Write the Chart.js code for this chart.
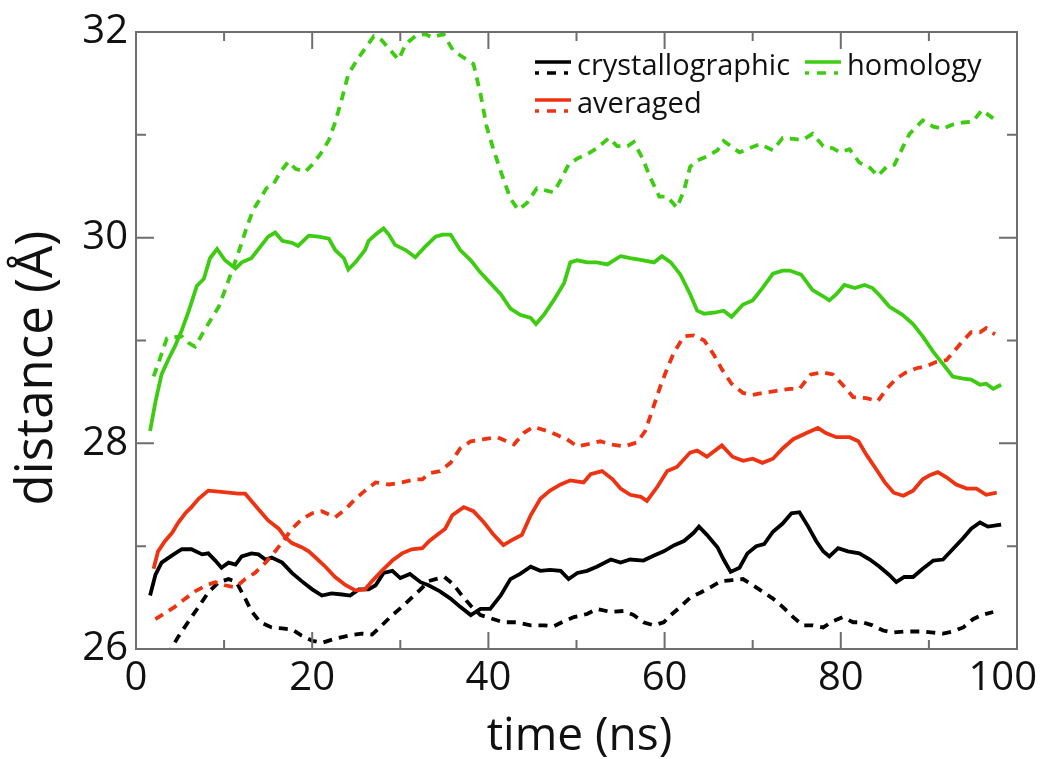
<!DOCTYPE html>
<html>
<head>
<meta charset="utf-8">
<script src="https://cdn.jsdelivr.net/npm/chart.js@4.4.1/dist/chart.umd.min.js"></script>
<style>
  body { margin: 0; background: #fff; }
</style>
</head>
<body>
<canvas id="distChart" width="1042" height="759"></canvas>
<script>
// time (ns) / distance (A), one pair of arrays per trace
const crystSolidT = [1.6,2.2,2.9,4.1,5.2,6.3,7.5,8.2,9.0,9.7,10.5,11.3,12.0,13.1,13.9,14.7,15.4,16.6,17.7,18.8,20.0,21.1,22.2,23.4,24.3,25.3,26.4,27.2,28.1,29.1,30.0,31.1,32.3,33.2,34.5,35.7,36.8,38.0,39.1,40.2,41.4,42.5,43.6,44.8,45.9,47.0,48.2,49.1,50.1,51.2,52.3,53.9,55.0,56.1,57.6,58.8,59.9,61.1,62.2,63.3,63.9,64.8,66.0,66.7,67.5,68.5,69.4,70.4,71.3,72.3,73.4,74.4,75.3,76.3,77.2,78.0,78.7,79.7,80.8,82.1,83.3,84.4,85.5,86.3,87.2,88.2,89.3,90.5,91.6,92.7,93.9,94.8,95.8,96.7,98.2];
const crystSolidD = [26.52,26.72,26.84,26.91,26.97,26.97,26.92,26.93,26.86,26.79,26.84,26.82,26.90,26.93,26.92,26.87,26.89,26.84,26.74,26.66,26.58,26.52,26.54,26.53,26.52,26.58,26.58,26.62,26.74,26.76,26.69,26.73,26.65,26.62,26.56,26.49,26.41,26.33,26.39,26.39,26.52,26.68,26.73,26.80,26.76,26.77,26.76,26.68,26.74,26.76,26.80,26.87,26.84,26.87,26.86,26.91,26.95,27.01,27.05,27.13,27.19,27.11,26.99,26.87,26.75,26.79,26.93,27.00,27.02,27.14,27.22,27.32,27.33,27.19,27.05,26.95,26.90,26.98,26.95,26.93,26.87,26.80,26.72,26.65,26.70,26.70,26.78,26.86,26.87,26.97,27.08,27.17,27.23,27.19,27.21];

const crystDashT = [3.5,4.8,5.9,7.1,8.2,9.4,10.5,11.4,12.4,13.1,14.1,15.4,16.6,17.7,18.8,20.0,21.1,22.6,24.1,25.6,26.8,27.9,29.1,30.2,31.3,32.3,33.2,34.0,35.0,36.0,37.0,38.0,39.1,40.2,41.7,43.2,44.8,46.3,47.4,48.6,49.7,51.2,52.3,53.9,55.4,56.5,57.6,58.8,59.9,60.7,61.8,62.9,64.1,65.2,66.4,67.7,68.9,70.0,71.1,72.3,73.4,74.6,75.7,76.8,78.0,79.1,80.2,81.4,82.5,83.6,84.8,85.9,87.1,88.2,89.3,90.5,91.6,92.7,93.9,95.0,96.0,97.3];
const crystDashD = [25.93,26.12,26.26,26.41,26.55,26.65,26.68,26.65,26.49,26.37,26.26,26.21,26.20,26.19,26.13,26.08,26.06,26.10,26.13,26.15,26.14,26.23,26.33,26.41,26.50,26.58,26.66,26.68,26.70,26.63,26.52,26.42,26.33,26.30,26.26,26.26,26.23,26.23,26.22,26.27,26.31,26.34,26.39,26.36,26.37,26.33,26.26,26.23,26.26,26.33,26.41,26.50,26.55,26.60,26.66,26.67,26.68,26.62,26.56,26.49,26.41,26.31,26.23,26.23,26.21,26.27,26.31,26.26,26.26,26.23,26.18,26.16,26.17,26.17,26.17,26.16,26.15,26.17,26.21,26.29,26.33,26.36];

const avgSolidT = [2.0,2.5,3.3,4.1,4.8,5.6,6.3,7.1,8.2,9.4,10.5,11.6,12.4,13.1,14.1,15.0,16.2,16.9,17.7,18.8,19.6,20.5,21.5,22.6,23.8,24.9,26.0,26.8,27.9,29.1,30.2,31.3,32.5,33.3,34.2,35.1,35.9,37.2,38.3,39.5,40.6,41.7,42.9,43.8,44.8,45.9,47.0,48.2,49.3,50.8,51.6,52.9,54.1,55.0,56.1,57.3,58.0,59.2,60.3,61.4,62.9,63.7,64.8,66.5,67.7,68.9,70.0,71.1,72.3,73.4,74.6,76.1,77.4,78.3,79.5,81.0,82.0,82.9,84.0,85.0,86.0,87.1,88.2,89.3,90.1,91.0,92.0,93.1,94.3,95.4,96.5,97.7];
const avgSolidD = [26.78,26.95,27.05,27.13,27.23,27.32,27.38,27.46,27.54,27.53,27.52,27.51,27.51,27.44,27.34,27.25,27.17,27.09,27.03,26.99,26.95,26.88,26.80,26.70,26.62,26.57,26.58,26.66,26.76,26.86,26.93,26.97,26.98,27.05,27.11,27.17,27.30,27.38,27.34,27.23,27.11,27.01,27.07,27.11,27.30,27.46,27.54,27.60,27.64,27.62,27.70,27.73,27.65,27.56,27.50,27.48,27.44,27.58,27.73,27.77,27.91,27.93,27.87,27.98,27.87,27.83,27.85,27.81,27.85,27.95,28.04,28.10,28.15,28.10,28.06,28.06,28.02,27.89,27.75,27.62,27.52,27.49,27.54,27.65,27.69,27.72,27.67,27.60,27.56,27.56,27.50,27.52];

const avgDashT = [2.2,3.3,4.4,5.6,6.7,8.0,9.0,10.1,11.3,12.4,13.5,14.7,15.8,16.7,17.7,18.8,20.0,21.1,22.6,23.8,24.9,26.0,27.2,28.7,30.2,31.7,32.5,33.3,34.5,35.7,36.8,38.0,39.5,41.0,42.9,44.0,45.1,46.7,47.8,48.9,50.1,51.2,52.7,53.9,55.4,56.9,57.8,58.6,59.5,60.3,61.1,62.2,63.3,64.5,65.6,66.5,67.6,68.9,70.0,71.1,72.7,74.2,75.3,76.6,78.0,79.1,80.2,81.4,82.9,84.2,85.2,86.3,87.4,88.6,89.7,90.8,92.0,92.9,93.9,94.8,95.8,96.5,97.5];
const avgDashD = [26.29,26.35,26.41,26.49,26.56,26.62,26.65,26.62,26.60,26.68,26.74,26.84,26.95,27.05,27.17,27.26,27.32,27.34,27.28,27.36,27.46,27.54,27.62,27.60,27.62,27.65,27.65,27.71,27.73,27.81,27.95,28.02,28.04,28.06,27.99,28.10,28.16,28.12,28.08,28.04,27.97,27.99,28.02,27.99,27.97,28.01,28.12,28.32,28.55,28.73,28.89,29.04,29.05,29.00,28.86,28.72,28.58,28.49,28.47,28.49,28.51,28.53,28.53,28.67,28.69,28.67,28.57,28.45,28.44,28.41,28.53,28.63,28.69,28.73,28.75,28.79,28.81,28.90,29.00,29.08,29.08,29.12,29.06];

const homSolidT = [1.6,2.2,2.9,3.7,4.4,5.2,6.0,6.9,7.7,8.4,9.2,10.1,11.3,12.0,13.1,14.1,15.0,15.8,16.6,17.7,18.4,19.6,20.7,21.9,22.6,23.6,24.1,24.9,26.0,26.4,27.2,28.1,28.7,29.4,30.6,31.7,32.8,34.0,34.8,35.7,36.8,38.0,39.1,40.2,41.4,42.5,43.6,44.8,45.4,46.3,47.4,48.6,49.3,50.1,51.2,52.3,53.5,55.0,56.1,57.6,58.8,59.7,60.7,61.8,62.9,63.7,64.5,65.6,66.7,67.6,68.9,70.0,71.1,72.3,73.4,74.2,75.5,76.8,78.0,78.7,79.5,80.4,81.6,82.7,83.6,84.4,85.5,87.0,88.2,89.3,90.5,91.6,92.7,93.9,94.8,95.8,96.5,97.3,98.2];
const homSolidD = [28.12,28.40,28.67,28.82,28.94,29.10,29.29,29.53,29.60,29.80,29.89,29.78,29.70,29.76,29.80,29.91,30.01,30.05,29.97,29.95,29.92,30.02,30.01,29.99,29.88,29.80,29.69,29.76,29.88,29.97,30.03,30.09,30.03,29.93,29.88,29.81,29.91,30.01,30.03,30.03,29.88,29.78,29.66,29.56,29.45,29.31,29.25,29.22,29.16,29.25,29.39,29.56,29.76,29.78,29.76,29.76,29.74,29.82,29.80,29.78,29.76,29.82,29.76,29.64,29.45,29.29,29.26,29.27,29.29,29.23,29.35,29.39,29.51,29.65,29.68,29.68,29.64,29.49,29.43,29.39,29.45,29.54,29.51,29.54,29.51,29.44,29.33,29.25,29.16,29.04,28.89,28.77,28.65,28.63,28.62,28.57,28.58,28.53,28.57];

const homDashT = [2.0,2.7,3.5,4.2,5.2,5.9,6.7,7.5,8.4,9.4,10.1,10.9,11.4,12.0,12.6,13.3,14.1,14.8,15.6,16.4,17.3,18.1,19.2,20.0,20.9,21.9,22.6,23.4,24.1,25.1,26.0,27.0,27.9,28.9,29.8,30.6,31.7,32.8,33.6,34.9,36.0,37.2,38.3,39.1,39.8,40.6,41.5,42.5,43.4,44.4,45.5,46.5,47.4,48.2,49.1,50.1,51.2,52.3,53.7,54.6,55.8,56.5,57.5,58.4,59.4,60.3,61.4,62.2,62.9,63.7,64.8,66.0,66.7,68.5,69.6,70.8,72.3,73.4,74.6,75.7,76.8,78.0,79.1,79.9,81.0,82.1,83.3,84.2,85.2,86.1,87.1,87.8,88.6,89.3,90.5,91.6,92.7,93.9,95.0,96.0,97.3];
const homDashD = [28.65,28.82,29.02,29.03,29.04,28.98,28.94,29.06,29.19,29.33,29.49,29.68,29.80,29.95,30.11,30.27,30.38,30.48,30.52,30.64,30.74,30.67,30.64,30.71,30.81,30.95,31.12,31.36,31.59,31.73,31.84,31.96,31.92,31.82,31.73,31.88,31.96,31.98,31.95,31.98,31.82,31.75,31.69,31.40,31.08,30.85,30.62,30.38,30.27,30.34,30.48,30.46,30.44,30.56,30.71,30.77,30.81,30.87,30.97,30.89,30.89,30.93,30.77,30.58,30.40,30.40,30.29,30.46,30.69,30.75,30.79,30.85,30.94,30.83,30.87,30.91,30.85,30.97,30.96,30.95,31.01,30.89,30.87,30.83,30.86,30.73,30.68,30.60,30.69,30.71,30.89,31.01,31.08,31.14,31.08,31.06,31.10,31.12,31.13,31.24,31.16];

const timeTicks = [0, 20, 40, 60, 80, 100];
const legendNames = ['crystallographic', 'averaged', 'homology'];

const BLACK = '#000000', RED = '#ee3312', GREEN = '#3dcc12';
const DASH = [9, 7];

function pts(ts, ds) {
  return ts.map((t, i) => ({ x: t, y: ds[i] }));
}

function trace(label, ts, ds, color, dashed) {
  return {
    label: label,
    data: pts(ts, ds),
    borderColor: color,
    borderWidth: 3.8,
    borderDash: dashed ? DASH : [],
    pointRadius: 0,
    tension: 0,
    fill: false
  };
}

// frame with inward ticks on all sides, x labels, axis titles and the two-line legend
const framePlugin = {
  id: 'frame',
  afterDatasetsDraw(chart) {
    const { ctx, chartArea: a, scales: { x, y } } = chart;
    ctx.save();
    ctx.strokeStyle = '#6e6e6e';
    ctx.lineWidth = 2;
    ctx.setLineDash([]);
    ctx.strokeRect(a.left, a.top, a.right - a.left, a.bottom - a.top);

    ctx.beginPath();
    for (let v = 0; v <= 100; v += 10) {
      const px = x.getPixelForValue(v);
      const len = v % 20 === 0 ? 17 : 9;
      ctx.moveTo(px, a.bottom); ctx.lineTo(px, a.bottom - len);
      ctx.moveTo(px, a.top); ctx.lineTo(px, a.top + len);
    }
    for (let v = 26; v <= 32; v++) {
      const py = y.getPixelForValue(v);
      const len = v % 2 === 0 ? 18 : 10;
      ctx.moveTo(a.left, py); ctx.lineTo(a.left + len, py);
      ctx.moveTo(a.right, py); ctx.lineTo(a.right - len, py);
    }
    ctx.stroke();

    // x tick labels (last one kept inside the canvas, as in the figure)
    ctx.fillStyle = '#111';
    ctx.font = '40px "Open Sans"';
    ctx.textAlign = 'center';
    ctx.textBaseline = 'alphabetic';
    timeTicks.forEach(v => {
      const s = String(v);
      const w = ctx.measureText(s).width;
      const px = Math.min(x.getPixelForValue(v), chart.width - 5 - w / 2);
      ctx.fillText(s, px, 690);
    });

    // axis titles
    ctx.font = '46px "Open Sans"';
    ctx.fillText('time (ns)', (a.left + a.right) / 2 + 3, 750);
    ctx.save();
    ctx.translate(52, 368);
    ctx.rotate(-Math.PI / 2);
    ctx.font = '51px "Open Sans"';
    ctx.fillText('distance (Å)', 0, 0);
    ctx.restore();

    // legend: solid sample above dashed sample, then the name
    const items = [
      { name: legendNames[0], color: BLACK, x: 535, y: 75 },
      { name: legendNames[1], color: RED, x: 535, y: 113 },
      { name: legendNames[2], color: GREEN, x: 805, y: 75 }
    ];
    ctx.font = '29px "Open Sans"';
    ctx.textAlign = 'left';
    ctx.lineWidth = 3.5;
    items.forEach(it => {
      ctx.strokeStyle = it.color;
      ctx.setLineDash([]);
      ctx.beginPath();
      ctx.moveTo(it.x, it.y - 13); ctx.lineTo(it.x + 36, it.y - 13);
      ctx.stroke();
      ctx.setLineDash([4, 8, 9, 8, 4, 100]);
      ctx.beginPath();
      ctx.moveTo(it.x, it.y - 2); ctx.lineTo(it.x + 36, it.y - 2);
      ctx.stroke();
      ctx.fillStyle = '#111';
      ctx.fillText(it.name, it.x + 42, it.y);
    });
    ctx.restore();
  }
};

new Chart(document.getElementById('distChart'), {
  type: 'line',
  data: {
    datasets: [
      trace('homology', homSolidT, homSolidD, GREEN, false),
      trace('homology (dashed)', homDashT, homDashD, GREEN, true),
      trace('averaged', avgSolidT, avgSolidD, RED, false),
      trace('averaged (dashed)', avgDashT, avgDashD, RED, true),
      trace('crystallographic', crystSolidT, crystSolidD, BLACK, false),
      trace('crystallographic (dashed)', crystDashT, crystDashD, BLACK, true)
    ]
  },
  options: {
    responsive: false,
    animation: false,
    layout: { padding: { top: 32, right: 25, left: 0, bottom: 0 } },
    plugins: {
      legend: { display: false },
      tooltip: { enabled: false }
    },
    scales: {
      x: {
        type: 'linear',
        min: 0,
        max: 100,
        grid: { display: false, drawTicks: false },
        border: { display: false },
        ticks: { display: false, stepSize: 20 },
        afterFit: s => { s.height = 110; s.paddingLeft = 0; s.paddingRight = 0; }
      },
      y: {
        min: 26,
        max: 32,
        grid: { display: false, drawTicks: false },
        border: { display: false },
        ticks: {
          stepSize: 2,
          padding: 8,
          color: '#111',
          font: { family: 'Open Sans', size: 40 }
        },
        afterFit: s => { s.width = 136; s.paddingTop = 0; s.paddingBottom = 0; }
      }
    }
  },
  plugins: [framePlugin]
});
</script>
</body>
</html>
